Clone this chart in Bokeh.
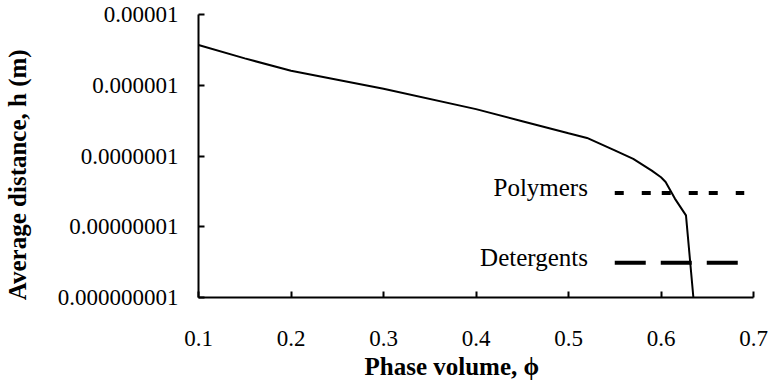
from bokeh.plotting import figure
from bokeh.models import Range1d, FixedTicker, CustomJSTickFormatter, Label, Title
from bokeh.embed import file_html
from bokeh.resources import INLINE

# Average inter-particle distance versus phase volume
phi = [0.1, 0.15, 0.2, 0.3, 0.4, 0.45, 0.5, 0.52, 0.55, 0.57, 0.59, 0.6,
       0.605, 0.615, 0.627, 0.635]
h = [3.7e-6, 2.4e-6, 1.6e-6, 8.9e-7, 4.6e-7, 3.1e-7, 2.1e-7, 1.8e-7, 1.2e-7,
     9.1e-8, 6.2e-8, 5.0e-8, 4.3e-8, 2.5e-8, 1.45e-8, 1.0e-9]

# Typical size levels for thickeners
ref_x = [0.55, 0.69]
polymers_h = 3.0e-8
detergents_h = 3.1e-9

x_ticks = [0.1, 0.2, 0.3, 0.4, 0.5, 0.6, 0.7]
y_ticks = [1e-9, 1e-8, 1e-7, 1e-6, 1e-5]

SERIF = "'Liberation Serif', serif"

p = figure(width=771, height=390, y_axis_type="log",
           x_range=Range1d(0.1, 0.7), y_range=Range1d(1e-9, 1e-5),
           output_backend="svg", toolbar_location=None,
           min_border_left=198, min_border_right=18,
           min_border_top=14, min_border_bottom=93)
p.outline_line_color = None
p.grid.visible = False
p.background_fill_color = "white"
p.border_fill_color = "white"

p.line(phi, h, line_color="black", line_width=2)

p.line(ref_x, [polymers_h, polymers_h], line_color="black", line_width=4,
       line_dash="9 18 9 11")
p.line(ref_x, [detergents_h, detergents_h], line_color="black", line_width=4,
       line_dash="31 15")

for txt, yv in [("Polymers", polymers_h), ("Detergents", detergents_h)]:
    p.add_layout(Label(x=0.521, y=yv * 1.2, text=txt, text_align="right",
                       text_baseline="middle", text_font=SERIF,
                       text_font_size="25px", text_color="black"))

p.xaxis.ticker = FixedTicker(ticks=x_ticks)
p.yaxis.ticker = FixedTicker(ticks=y_ticks)
p.yaxis.formatter = CustomJSTickFormatter(
    code="return tick.toFixed(Math.round(-Math.log10(tick)));")
p.xaxis.formatter = CustomJSTickFormatter(code="return tick.toFixed(1);")

for ax in (p.xaxis, p.yaxis):
    ax.axis_line_width = 2
    ax.axis_line_color = "black"
    ax.major_tick_line_width = 2
    ax.major_tick_line_color = "black"
    ax.major_tick_in = 6
    ax.major_tick_out = 0
    ax.minor_tick_line_color = None
    ax.major_label_text_font = SERIF
    ax.major_label_text_font_size = "23px"
    ax.major_label_text_color = "black"
    ax.axis_label_text_font = SERIF
    ax.axis_label_text_font_size = "25px"
    ax.axis_label_text_font_style = "bold"
    ax.axis_label_text_color = "black"

p.xaxis.major_label_standoff = 33
p.yaxis.major_label_standoff = 20

# y title: trailing no-break spaces nudge the centred text towards the bottom
p.yaxis.axis_label = "Average distance,  h (m)" + "\u00a0" * 5
p.yaxis.axis_label_standoff = 24

# x title as a side-panel title so it can be offset along the axis
x_title = Title(text="Phase volume, \u03d5", align="left", offset=166,
                text_font=SERIF, text_font_size="25px",
                text_font_style="bold", text_color="black", standoff=4)
p.add_layout(x_title, "below")

open("out.html", "w").write(file_html(p, INLINE))
